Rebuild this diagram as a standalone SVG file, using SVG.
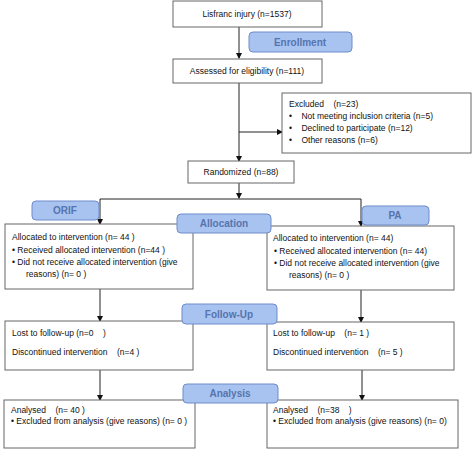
<svg xmlns="http://www.w3.org/2000/svg" width="474" height="450" viewBox="0 0 474 450">
<defs>
<style>
.box{fill:#fff;stroke:#666;stroke-width:1}
.lab{fill:#a8c3f0;stroke:#6e8ccb;stroke-width:1}
.t{font-family:"Liberation Sans",Arial,sans-serif;font-size:8.5px;fill:#111;white-space:pre}
.m{text-anchor:middle}
.lt{font-family:"Liberation Sans",Arial,sans-serif;font-size:10px;font-weight:bold;fill:#5674ad;text-anchor:middle}
.c{stroke:#222;stroke-width:1;fill:none}
</style>
<marker id="ah" markerWidth="6" markerHeight="6" refX="5" refY="3" orient="auto" markerUnits="userSpaceOnUse">
<path d="M0,0 L6,3 L0,6 Z" fill="#111"/>
</marker>
</defs>
<rect width="474" height="450" fill="#fff"/>
<g id="connectors">
<path class="c" d="M239,27 V58" marker-end="url(#ah)"/>
<path class="c" d="M239,83 V161" marker-end="url(#ah)"/>
<path class="c" d="M239,132 H282" marker-end="url(#ah)"/>
<path class="c" d="M239,183 V198" marker-end="url(#ah)"/>
<path class="c" d="M100,199 H361"/>
<path class="c" d="M100,199 V224" marker-end="url(#ah)"/>
<path class="c" d="M361,199 V226" marker-end="url(#ah)"/>
<path class="c" d="M100,289 V321" marker-end="url(#ah)"/>
<path class="c" d="M361,290 V322" marker-end="url(#ah)"/>
<path class="c" d="M100,370 V400" marker-end="url(#ah)"/>
<path class="c" d="M362,370 V400" marker-end="url(#ah)"/>
</g>
<g id="lisfranc"><rect class="box" x="173" y="1" width="149" height="26"/><text class="t m" x="247" y="17">Lisfranc injury (n=1537)</text></g>
<g id="assessed"><rect class="box" x="173" y="59" width="149" height="24"/><text class="t m" x="247" y="74">Assessed for eligibility (n=111)</text></g>
<g id="excluded"><rect class="box" x="282" y="93" width="189" height="60"/>
<text class="t" x="289" y="107">Excluded    (n=23)</text>
<text class="t" x="289" y="119">•    Not meeting inclusion criteria (n=5)</text>
<text class="t" x="289" y="131">•    Declined to participate (n=12)</text>
<text class="t" x="289" y="143">•    Other reasons (n=6)</text>
</g>
<g id="randomized"><rect class="box" x="188" y="161" width="106" height="22"/><text class="t m" x="241" y="175">Randomized (n=88)</text></g>
<g id="alloc-left"><rect class="box" x="5" y="224" width="188" height="65"/>
<text class="t" x="12" y="240">Allocated to intervention (n= 44 )</text>
<text class="t" x="12" y="253">• Received allocated intervention (n=44 )</text>
<text class="t" x="12" y="265">• Did not receive allocated intervention (give</text>
<text class="t" x="26" y="277">reasons) (n= 0 )</text>
</g>
<g id="alloc-right"><rect class="box" x="267" y="226" width="187" height="64"/>
<text class="t" x="273" y="241">Allocated to intervention (n= 44)</text>
<text class="t" x="274" y="254">• Received allocated intervention (n= 44)</text>
<text class="t" x="274" y="266">• Did not receive allocated intervention (give</text>
<text class="t" x="289" y="278">reasons) (n= 0 )</text>
</g>
<g id="follow-left"><rect class="box" x="5" y="321" width="188" height="49"/>
<text class="t" x="12" y="336">Lost to follow-up (n=0    )</text>
<text class="t" x="12" y="355">Discontinued intervention    (n=4 )</text>
</g>
<g id="follow-right"><rect class="box" x="267" y="322" width="187" height="48"/>
<text class="t" x="273" y="336">Lost to follow-up    (n= 1 )</text>
<text class="t" x="273" y="355">Discontinued intervention    (n= 5 )</text>
</g>
<g id="analysis-left"><rect class="box" x="4" y="400" width="191" height="48"/>
<text class="t" x="11" y="413">Analysed    (n= 40 )</text>
<text class="t" x="11" y="424">• Excluded from analysis (give reasons) (n= 0 )</text>
</g>
<g id="analysis-right"><rect class="box" x="267" y="400" width="191" height="48"/>
<text class="t" x="273" y="413">Analysed    (n=38    )</text>
<text class="t" x="273" y="424">• Excluded from analysis (give reasons) (n= 0)</text>
</g>
<g id="enrollment"><rect class="lab" x="249" y="32" width="103" height="20" rx="4"/><text class="lt" x="300" y="46">Enrollment</text></g>
<g id="orif"><rect class="lab" x="32" y="201" width="67" height="19" rx="4"/><text class="lt" x="65" y="214">ORIF</text></g>
<g id="allocation"><rect class="lab" x="177" y="214" width="94" height="19" rx="4"/><text class="lt" x="224" y="227">Allocation</text></g>
<g id="pa"><rect class="lab" x="362" y="206" width="67" height="19" rx="4"/><text class="lt" x="395" y="219">PA</text></g>
<g id="followup"><rect class="lab" x="182" y="304" width="95" height="20" rx="4"/><text class="lt" x="229" y="318">Follow-Up</text></g>
<g id="analysis"><rect class="lab" x="183" y="384" width="95" height="19" rx="4"/><text class="lt" x="230" y="397">Analysis</text></g>
</svg>
